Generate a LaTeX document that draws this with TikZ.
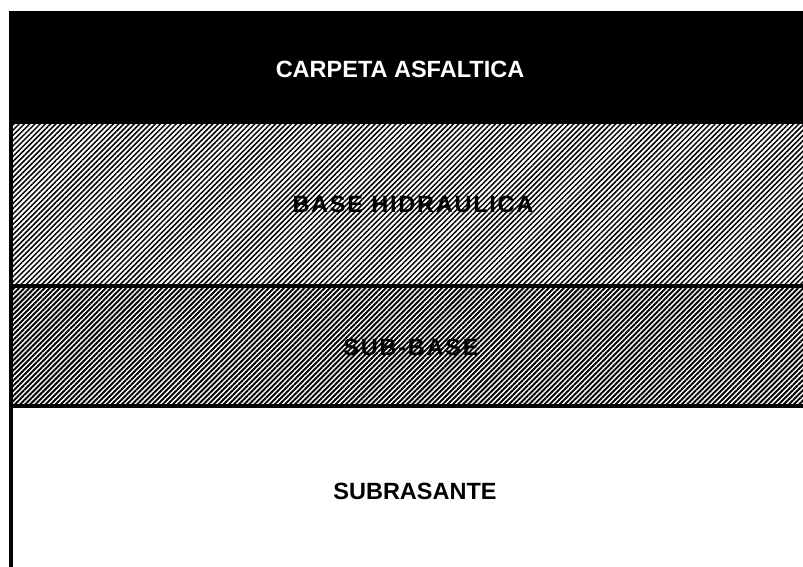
\documentclass[tikz,border=0pt]{standalone}
\usepackage{fontspec}
\setmainfont{Liberation Sans}
\usetikzlibrary{patterns.meta}
\tikzset{
  layertext/.style={font=\bfseries\fontsize{23.5}{28}\selectfont, inner sep=0pt, anchor=center},
  widetext/.style={font=\bfseries\fontsize{23.5}{28}\selectfont\addfontfeatures{LetterSpace=7.5}, inner sep=0pt, anchor=center},
  hatchbase/.style={pattern={Lines[angle=45,distance=3.7pt,line width=1.5pt]}},
  hatchsub/.style={pattern={Lines[angle=45,distance=3.6pt,line width=1.95pt]}},
  border/.style={line width=4pt, black},
}
\begin{document}
\begin{tikzpicture}[x=1pt,y=-1pt]
\useasboundingbox (0,0) rectangle (803,567);
% layers
\fill[black] (10,11) rectangle (803,124);
\fill[hatchbase] (12,124) rectangle (803,286);
\fill[hatchsub] (12,286) rectangle (803,406);
% borders
\draw[border] (10.5,11) -- (10.5,567);
\draw[border] (10,286) -- (803,286);
\draw[border] (10,406) -- (803,406);
% labels
\node[layertext, text=white] (carpeta) at (400,69) {CARPETA ASFALTICA};
\node[widetext] (base) at (413,204) {BASE HIDRAULICA};
\node[widetext] (subbase) at (411,347) {SUB-BASE};
\node[layertext] (subrasante) at (415,491) {SUBRASANTE};
\end{tikzpicture}
\end{document}
